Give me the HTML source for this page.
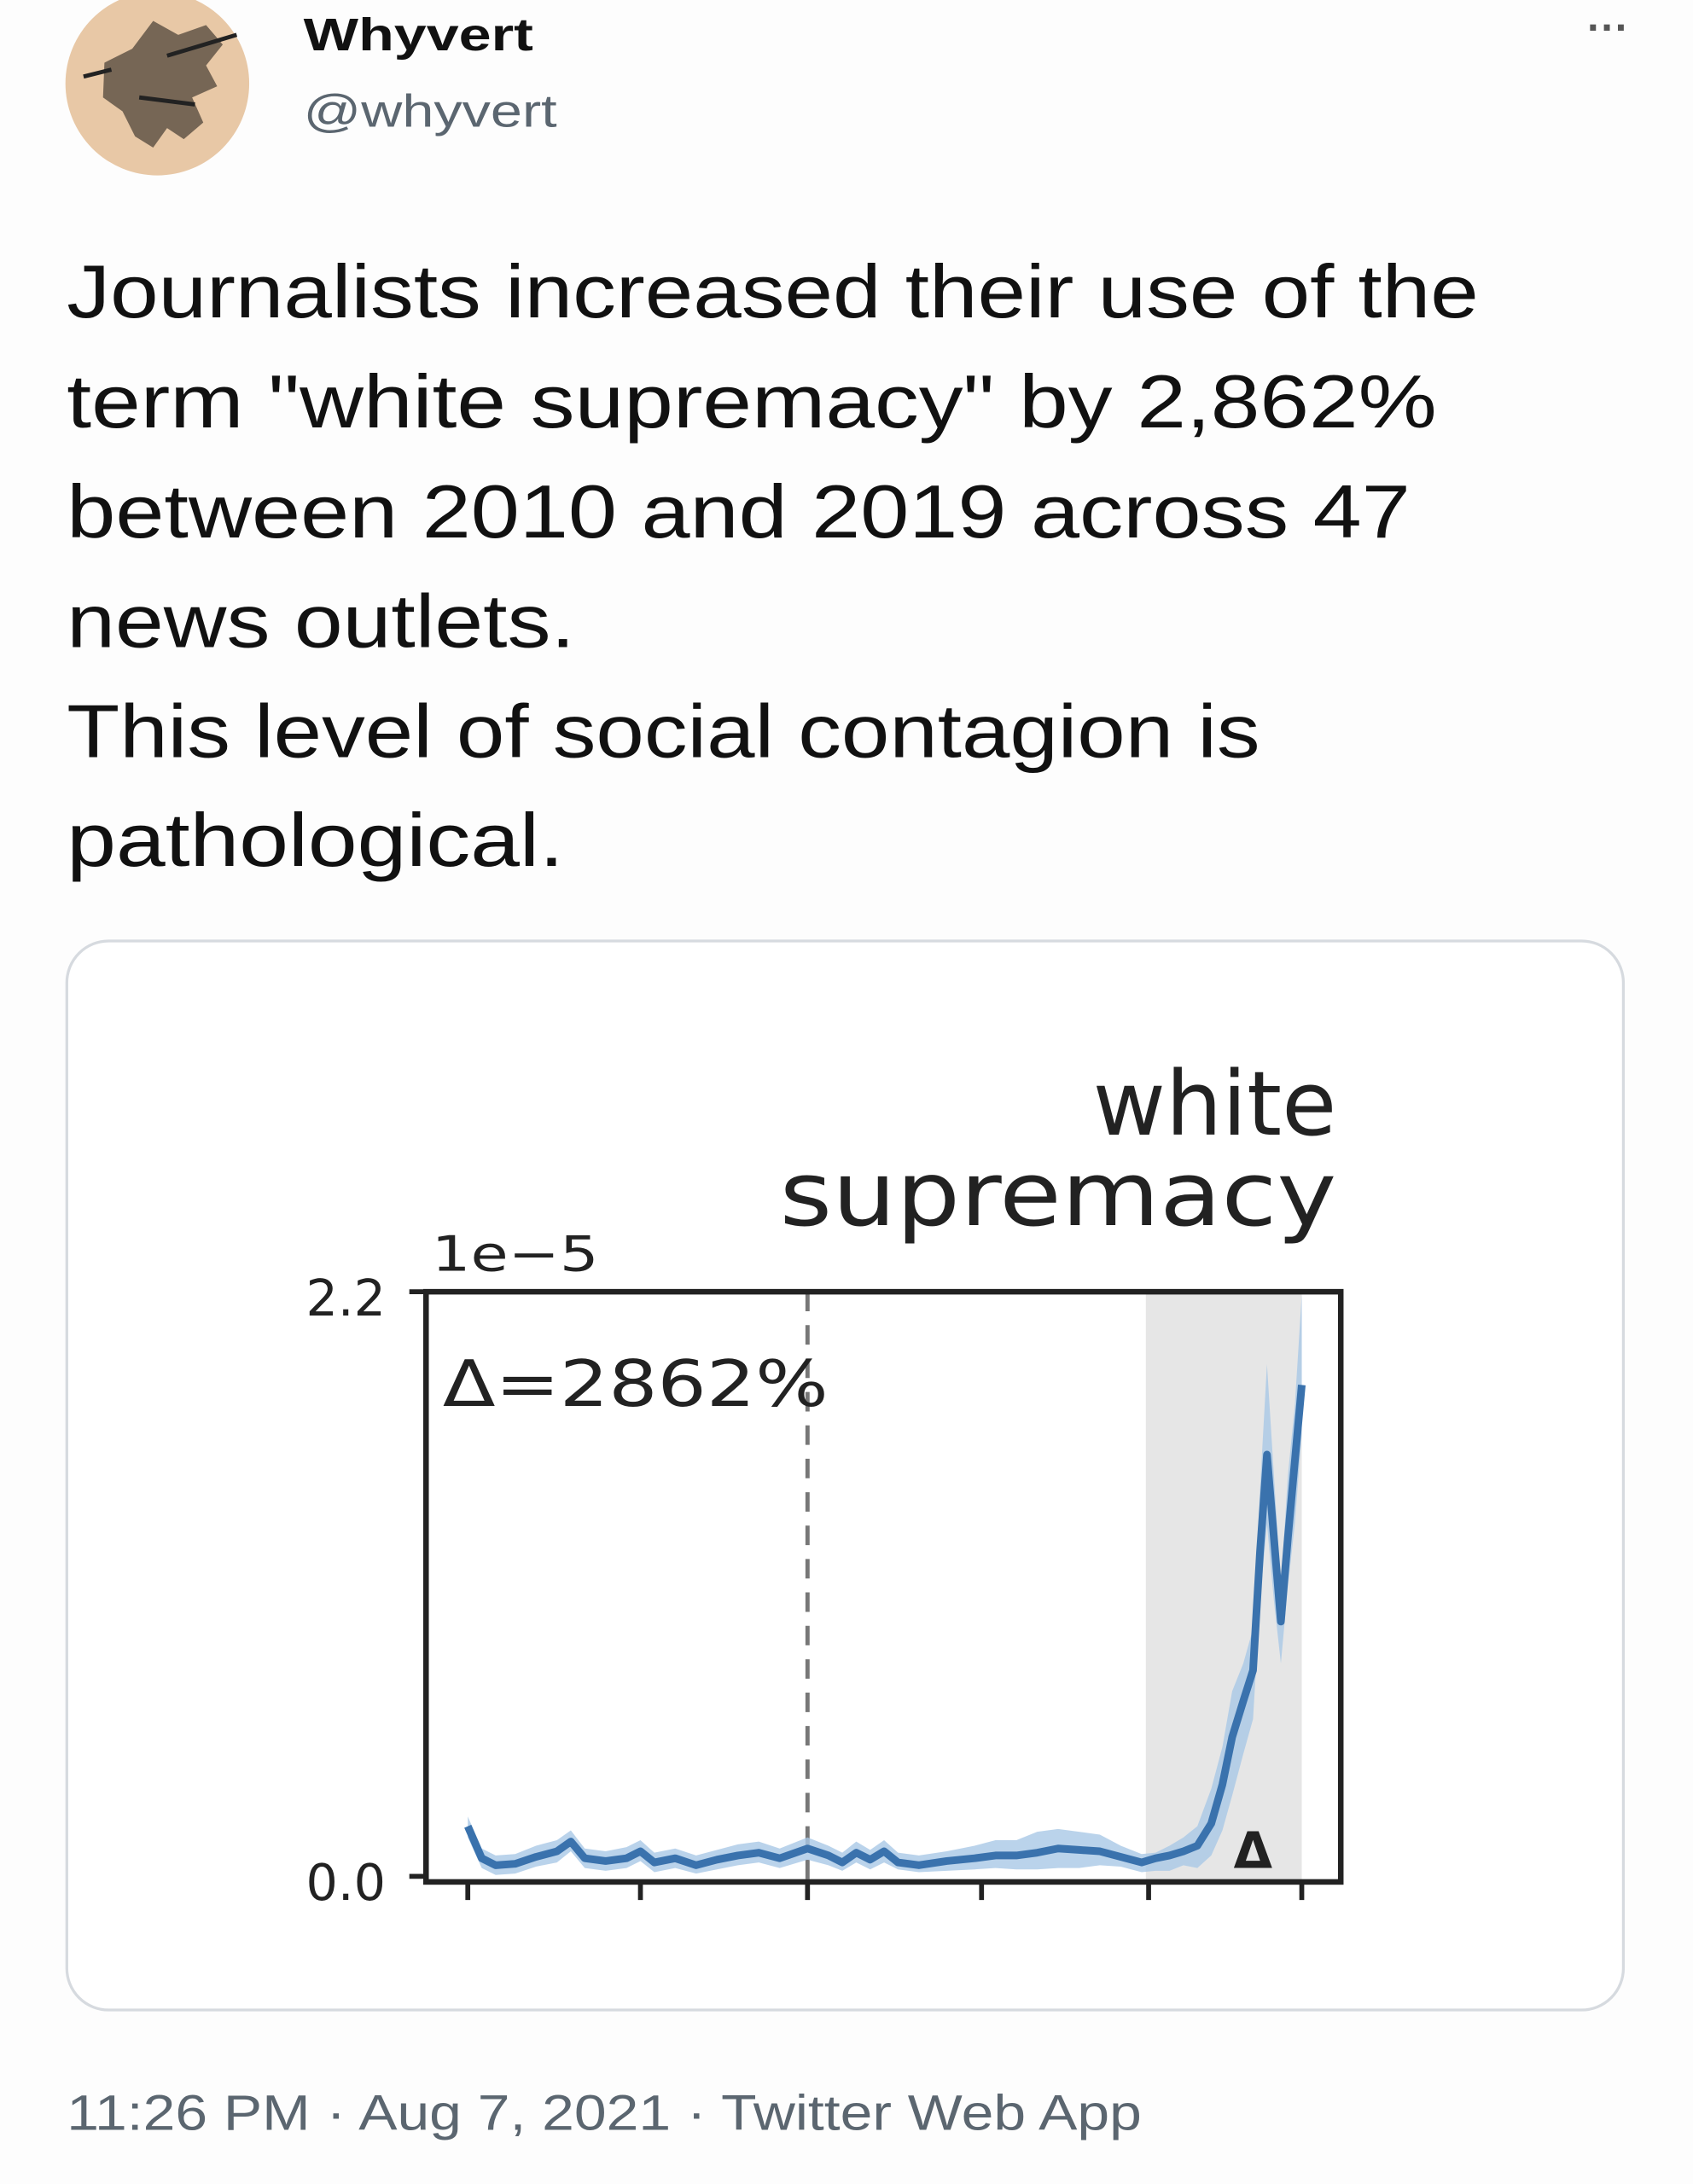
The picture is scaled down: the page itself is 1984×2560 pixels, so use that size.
<!DOCTYPE html>
<html><head><meta charset="utf-8"><style>html,body{margin:0;padding:0;background:#fff;}svg{display:block}</style></head>
<body>
<svg width="1984" height="2560" viewBox="0 0 1216 1569" xmlns="http://www.w3.org/2000/svg">
<rect width="1216" height="1569" fill="#fdfdfd"/>
<!-- avatar -->
<circle cx="113" cy="60" r="66" fill="#e8c8a6"/>
<path d="M75 45 L95 35 L110 15 L128 25 L148 18 L160 32 L148 47 L156 62 L138 70 L146 88 L132 100 L120 92 L110 106 L97 98 L88 80 L74 70 Z" fill="#2a2420" opacity="0.6"/>
<path d="M60 55 L80 50 M120 40 L170 25 M100 70 L140 75" stroke="#222" stroke-width="3"/>
<text x="218" y="36" font-family="Liberation Sans, sans-serif" font-weight="bold" font-size="33" fill="#111" textLength="165" lengthAdjust="spacingAndGlyphs">Whyvert</text>
<text x="218" y="91" font-family="Liberation Sans, sans-serif" font-size="33" fill="#5b6670" textLength="182" lengthAdjust="spacingAndGlyphs">@whyvert</text>
<text x="1140" y="30" font-family="Liberation Sans, sans-serif" font-weight="bold" font-size="30" fill="#555">···</text>
<g font-family="Liberation Sans, sans-serif" font-size="54" fill="#111">
<text x="48" y="228" textLength="1014" lengthAdjust="spacingAndGlyphs">Journalists increased their use of the</text>
<text x="48" y="307" textLength="984" lengthAdjust="spacingAndGlyphs">term "white supremacy" by 2,862%</text>
<text x="48" y="386" textLength="965" lengthAdjust="spacingAndGlyphs">between 2010 and 2019 across 47</text>
<text x="48" y="465" textLength="365" lengthAdjust="spacingAndGlyphs">news outlets.</text>
<text x="48" y="544" textLength="857" lengthAdjust="spacingAndGlyphs">This level of social contagion is</text>
<text x="48" y="622" textLength="357" lengthAdjust="spacingAndGlyphs">pathological.</text>
</g>
<!-- card -->
<rect x="48" y="676" width="1118" height="768" rx="30" fill="#fff" stroke="#d6dadf" stroke-width="2"/>
<!-- chart -->
<rect x="823" y="928" width="112" height="424" fill="#e6e6e6"/>
<line x1="580" y1="928" x2="580" y2="1352" stroke="#777" stroke-width="3" stroke-dasharray="14,10"/>
<path d="M336,1305 L346,1328 356,1333 370,1332 385,1326 400,1322 410,1315 420,1328 435,1330 450,1327 460,1322 470,1331 485,1328 500,1333 515,1329 530,1325 545,1323 560,1328 580,1320 595,1326 605,1331 615,1323 625,1329 635,1322 645,1331 660,1333 680,1330 700,1326 715,1322 730,1322 745,1316 760,1314 775,1316 790,1318 805,1326 820,1332 830,1331 840,1326 850,1320 860,1312 870,1285 878,1255 885,1215 893,1195 900,1170 905,1070 910,980 915,1060 920,1140 925,1060 930,1010 935,930 L935,1030 930,1095 925,1140 920,1195 915,1150 910,1095 905,1150 900,1235 893,1260 885,1290 878,1315 870,1333 860,1342 850,1340 840,1344 830,1344 820,1345 805,1341 790,1340 775,1342 760,1342 745,1343 730,1343 715,1342 700,1343 680,1344 660,1345 645,1343 635,1338 625,1343 615,1338 605,1344 595,1340 580,1336 560,1342 545,1338 530,1340 515,1343 500,1346 485,1342 470,1345 460,1337 450,1342 435,1344 420,1342 410,1330 400,1338 385,1341 370,1346 356,1347 346,1342 336,1320 Z" fill="#a9c8e6" opacity="0.8"/>
<polyline fill="none" stroke="#3a72ad" stroke-width="5.5" stroke-linejoin="round" points="336,1312 346,1335 356,1340 370,1339 385,1334 400,1330 410,1323 420,1335 435,1337 450,1335 460,1330 470,1338 485,1335 500,1340 515,1336 530,1333 545,1331 560,1335 580,1328 595,1333 605,1338 615,1331 625,1336 635,1330 645,1338 660,1340 680,1337 700,1335 715,1333 730,1333 745,1331 760,1328 775,1329 790,1330 805,1334 820,1338 830,1335 840,1333 850,1330 860,1326 870,1310 878,1282 885,1248 893,1222 900,1200 905,1115 910,1045 915,1105 920,1165 925,1105 930,1050 935,995"/>
<rect x="306" y="928" width="657" height="424" fill="none" stroke="#222" stroke-width="4"/>
<g stroke="#222" stroke-width="3.5">
<line x1="294" y1="928" x2="306" y2="928"/><line x1="294" y1="1348" x2="306" y2="1348"/>
<line x1="336" y1="1352" x2="336" y2="1365"/><line x1="460" y1="1352" x2="460" y2="1365"/><line x1="580" y1="1352" x2="580" y2="1365"/><line x1="705" y1="1352" x2="705" y2="1365"/><line x1="825" y1="1352" x2="825" y2="1365"/><line x1="935" y1="1352" x2="935" y2="1365"/>
</g>
<g font-family="DejaVu Sans, sans-serif" fill="#222">
<text x="277" y="945" font-size="36" text-anchor="end">2.2</text>
<text x="277" y="1365" font-size="36" text-anchor="end">0.0</text>
<text x="310" y="913" font-size="35" textLength="120" lengthAdjust="spacingAndGlyphs">1e−5</text>
<text x="960" y="815" font-size="64" text-anchor="end">white</text>
<text x="560" y="880" font-size="64" textLength="400" lengthAdjust="spacingAndGlyphs">supremacy</text>
<text x="318" y="1010" font-size="46" textLength="277" lengthAdjust="spacingAndGlyphs">Δ=2862%</text>
<text x="886" y="1342" font-size="36" font-weight="bold">Δ</text>
</g>
<text x="48" y="1530" font-family="Liberation Sans, sans-serif" font-size="36" fill="#5b6670" textLength="772" lengthAdjust="spacingAndGlyphs">11:26 PM · Aug 7, 2021 · Twitter Web App</text>
</svg>
</body></html>
